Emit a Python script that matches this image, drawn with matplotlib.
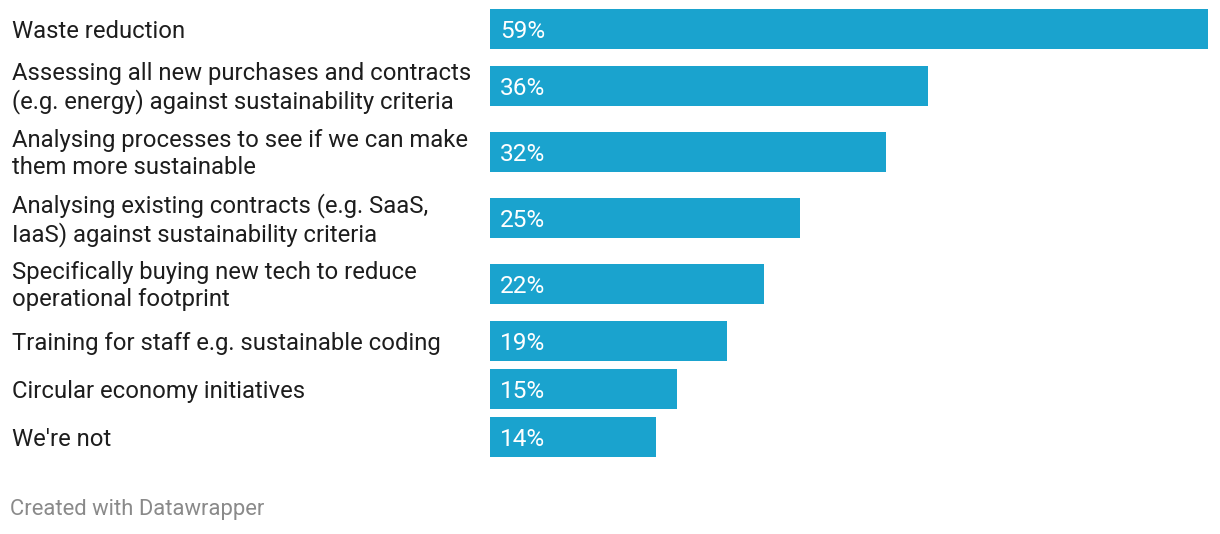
import matplotlib.pyplot as plt
from matplotlib.transforms import blended_transform_factory

plt.rcParams['font.family'] = ['Roboto', 'DejaVu Sans']

categories = [
    "Waste reduction",
    "Assessing all new purchases and contracts\n(e.g. energy) against sustainability criteria",
    "Analysing processes to see if we can make\nthem more sustainable",
    "Analysing existing contracts (e.g. SaaS,\nIaaS) against sustainability criteria",
    "Specifically buying new tech to reduce\noperational footprint",
    "Training for staff e.g. sustainable coding",
    "Circular economy initiatives",
    "We're not",
]
values = [59.0, 36.0, 32.5, 25.5, 22.5, 19.5, 15.4, 13.6]
value_labels = ["59%", "36%", "32%", "25%", "22%", "19%", "15%", "14%"]

bar_color = "#1aa3ce"

W, H = 1220, 534
fig = plt.figure(figsize=(W / 100, H / 100), dpi=100)
# bar area: x from 490px to 1208px, y axis in pixel units (top-down)
ax = fig.add_axes([490 / W, 0, (1208 - 490) / W, 1])
ax.set_xlim(0, max(values))
ax.set_ylim(H, 0)
ax.axis('off')

# row centres: each row half-height depends on number of label lines
centres = []
y = 5.3
for cat in categories:
    half = 24 if cat.count("\n") == 0 else 33
    y += half
    centres.append(y)
    y += half

ax.barh(centres, values, height=40, color=bar_color, left=0)

tr = blended_transform_factory(fig.transFigure, ax.transData)
for c, cat, v, lab in zip(centres, categories, values, value_labels):
    ax.text(12 / W, c + 1.8, cat, transform=tr, ha='left', va='center',
            fontsize=17.2, color='#1d1d1d', linespacing=1.2)
    ax.text(0.85, c + 1.8, lab, ha='left', va='center', fontsize=17.6, color='white')

fig.text(10 / W, 1 - 509 / H, "Created with Datawrapper", ha='left', va='center',
         fontsize=15.85, color='#8a8a8a')

fig.savefig("out.png", dpi=100)
